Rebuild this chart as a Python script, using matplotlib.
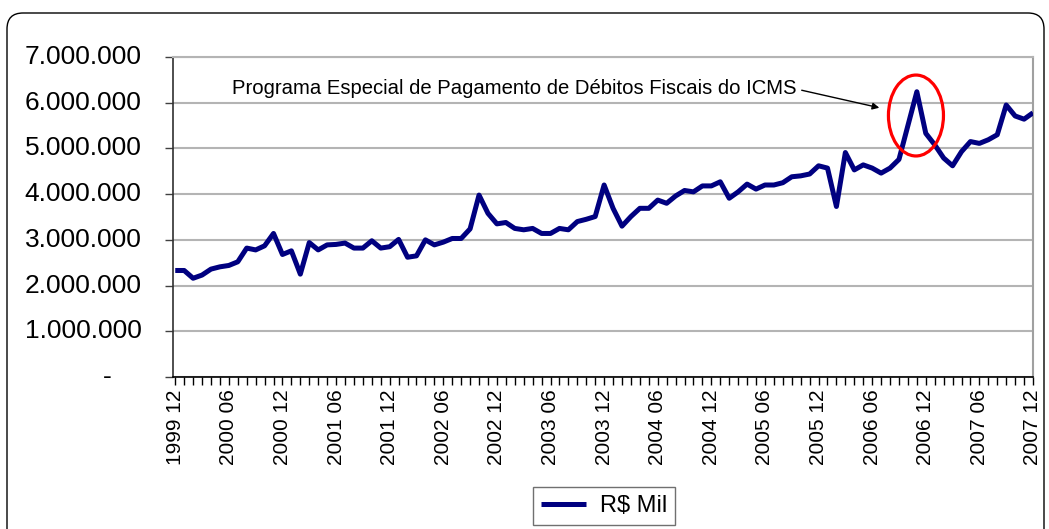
import matplotlib.pyplot as plt
import numpy as np
import pandas as pd
from matplotlib.patches import Ellipse, FancyBboxPatch

plt.rcParams["font.family"] = ["Liberation Sans", "DejaVu Sans"]

# monthly series, Dec 1999 .. Dec 2007
months = pd.period_range("1999-12", "2007-12", freq="M")
month_labels = [p.strftime("%Y %m") for p in months]

# R$ mil
icms = [
    2330000, 2330000, 2160000, 2230000, 2360000, 2410000, 2440000, 2520000,
    2820000, 2780000, 2870000, 3140000, 2680000, 2760000, 2250000, 2940000,
    2780000, 2890000, 2900000, 2930000, 2820000, 2820000, 2980000, 2820000,
    2850000, 3010000, 2620000, 2650000, 3000000, 2890000, 2950000, 3030000,
    3030000, 3240000, 3980000, 3580000, 3350000, 3380000, 3250000, 3220000,
    3250000, 3140000, 3140000, 3250000, 3220000, 3400000, 3450000, 3510000,
    4200000, 3690000, 3300000, 3510000, 3690000, 3690000, 3870000, 3800000,
    3960000, 4080000, 4050000, 4180000, 4180000, 4270000, 3910000, 4050000,
    4220000, 4110000, 4200000, 4200000, 4250000, 4380000, 4400000, 4440000,
    4620000, 4570000, 3730000, 4910000, 4530000, 4640000, 4570000, 4460000,
    4570000, 4760000, 5500000, 6240000, 5330000, 5080000, 4790000, 4620000,
    4930000, 5150000, 5110000, 5190000, 5300000, 5950000, 5710000, 5640000,
    5780000,
]

y_ticks = [0, 1000000, 2000000, 3000000, 4000000, 5000000, 6000000, 7000000]
y_tick_labels = ["-", "1.000.000", "2.000.000", "3.000.000", "4.000.000",
                 "5.000.000", "6.000.000", "7.000.000"]
series_name = "R\\$ Mil"
note = "Programa Especial de Pagamento de Débitos Fiscais do ICMS"

W, H = 1049, 529
fig = plt.figure(figsize=(W / 100, H / 100), dpi=100)

# rounded chart border (pixel coordinates)
bg = fig.add_axes([0, 0, 1, 1])
bg.set_xlim(0, W)
bg.set_ylim(H, 0)
bg.axis("off")
bg.add_patch(FancyBboxPatch((7, 13), 1037, 560,
                            boxstyle="round,pad=0,rounding_size=16",
                            fc="white", ec="black", lw=1.0))

ax = fig.add_axes([173 / W, 152 / H, 860 / W, 320 / H])
x = np.arange(len(icms))
line, = ax.plot(x, icms, color="#000080", lw=3.6, solid_joinstyle="round",
                solid_capstyle="butt", label=series_name, zorder=3)
ax.set_xlim(-0.25, len(icms) - 1)
ax.set_ylim(0, 7000000)

# x axis: tick every month, label every six
ax.set_xticks(x[::6])
ax.set_xticklabels(month_labels[::6], rotation=90, fontsize=15)
ax.set_xticks(x, minor=True)
ax.tick_params(axis="x", which="both", direction="out", length=6, width=1,
               color="black")
ax.tick_params(axis="x", which="major", pad=3)

# y axis
ax.set_yticks(y_ticks)
ax.set_yticklabels([])
ax.tick_params(axis="y", direction="out", length=6, width=1, color="#404040")
for v, lab in zip(y_ticks, y_tick_labels):
    off = -0.0713 if lab == "-" else -0.0364
    ax.text(off, v, lab, transform=ax.get_yaxis_transform(), ha="right",
            va="center", fontsize=19)

ax.yaxis.grid(True, color="#b4b4b4", lw=1.5)
ax.set_axisbelow(True)
ax.spines["top"].set_color("#b4b4b4")
ax.spines["top"].set_linewidth(1.5)
ax.spines["right"].set_color("#a0a0a0")
ax.spines["right"].set_linewidth(1.5)
ax.spines["left"].set_color("#303030")
ax.spines["left"].set_linewidth(1.2)
ax.spines["bottom"].set_color("black")
ax.spines["bottom"].set_linewidth(1.2)

# annotation + red circle around the peak
ax.annotate(note, xy=(78.8, 5890000), xytext=(69.5, 6300000),
            ha="right", va="center", fontsize=14.6,
            arrowprops=dict(arrowstyle="-|>", color="black", lw=1,
                            mutation_scale=10, shrinkA=2, shrinkB=0,
                            relpos=(1, 0.5)))
ax.add_patch(Ellipse((82.9, 5720000), 6.16, 1770000, fill=False,
                     ec="red", lw=2.3, clip_on=False, zorder=4))

leg = fig.legend(handles=[line], loc="center",
                 bbox_to_anchor=(604 / W, (H - 506) / H), fontsize=17,
                 frameon=True, fancybox=False, edgecolor="#707070",
                 handlelength=1.9, handletextpad=0.6, borderpad=0.35,
                 framealpha=1)
leg.get_frame().set_linewidth(1)

fig.savefig("out.png", dpi=100)
